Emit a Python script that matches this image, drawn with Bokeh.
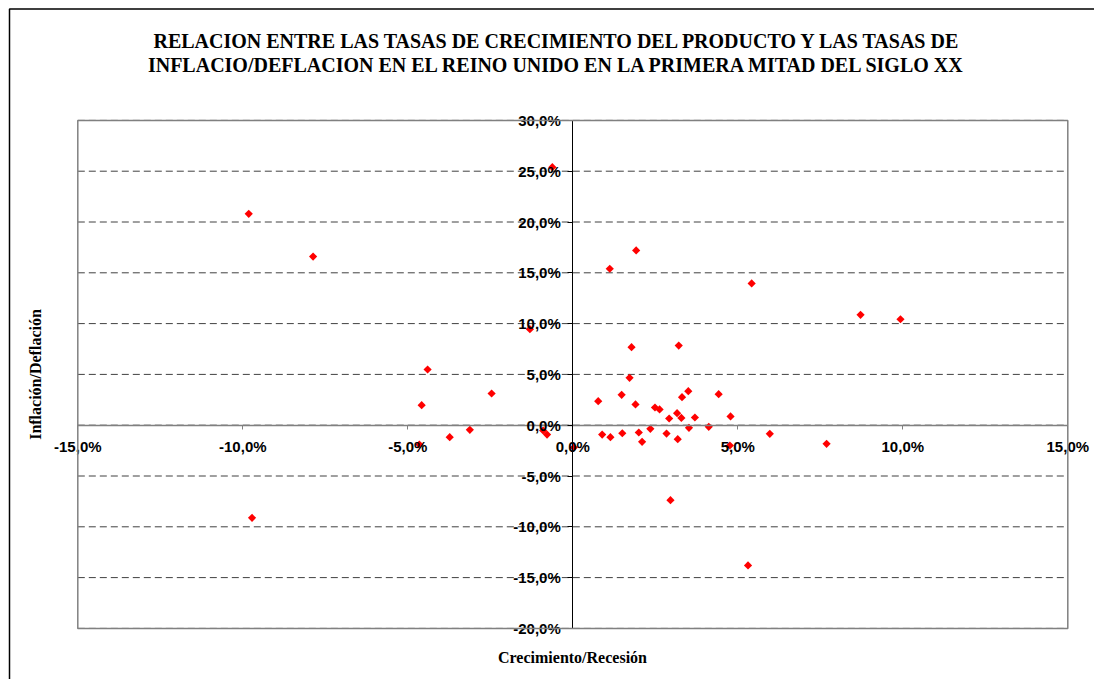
import math
from bokeh.plotting import figure
from bokeh.models import FixedTicker, Label, BoxAnnotation
from bokeh.embed import file_html
from bokeh.resources import INLINE

# Growth of output (%) and inflation/deflation (%), UK, first half of the 20th century
growth = [-0.62, -9.82, -7.87, 1.12, 1.92, 5.42, 8.72, 9.93, -1.30, -4.40,
          -4.58, -2.46, -4.65, -3.73, -3.12, -0.90, -0.78, -9.72, 0.03, 0.77,
          0.89, 1.14, 1.48, 1.50, 1.72, 1.78, 1.90, 2.00, 2.10, 2.35,
          2.49, 2.63, 2.84, 2.92, 3.21, 3.18, 3.16, 3.29, 3.31, 3.50,
          3.52, 3.70, 4.12, 4.42, 4.78, 4.76, 5.97, 7.69, 2.96, 5.31]
inflation = [25.4, 20.8, 16.6, 15.4, 17.2, 13.95, 10.86, 10.43, 9.45, 5.48,
             1.97, 3.12, -1.90, -1.18, -0.46, -0.52, -0.92, -9.12, -2.20, 2.36,
             -0.92, -1.18, 2.99, -0.79, 4.66, 7.68, 2.04, -0.72, -1.64, -0.36,
             1.74, 1.55, -0.82, 0.66, 7.84, -1.38, 1.18, 0.72, 2.76, 3.35,
             -0.26, 0.76, -0.16, 3.05, 0.86, -2.00, -0.85, -1.83, -7.38, -13.80]

x_ticks = [-15, -10, -5, 0, 5, 10, 15]
x_tick_labels = ["-15,0%", "-10,0%", "-5,0%", "0,0%", "5,0%", "10,0%", "15,0%"]
y_ticks = [-20, -15, -10, -5, 0, 5, 10, 15, 20, 25, 30]
y_tick_labels = ["-20,0%", "-15,0%", "-10,0%", "-5,0%", "0,0%", "5,0%",
                 "10,0%", "15,0%", "20,0%", "25,0%", "30,0%"]

title_lines = ["RELACION ENTRE LAS TASAS DE CRECIMIENTO DEL PRODUCTO Y LAS TASAS DE",
               "INFLACIO/DEFLACION EN EL REINO UNIDO EN LA PRIMERA MITAD DEL SIGLO XX"]
x_title = "Crecimiento/Recesión"
y_title = "Inflación/Deflación"

# ---- layout: the frame covers the whole canvas; the plot area is drawn inside it
W, H = 1094, 679
X0_PX, PX_PER_X = 572.3, 33.0      # canvas x of 0 %, pixels per 1 %
Y0_PX, PX_PER_Y = 424.7, 10.16     # canvas y of 0 %, pixels per 1 %


def dx(px):
    return (px - X0_PX) / PX_PER_X


def dy(py):
    return (Y0_PX - py) / PX_PER_Y


x_lo, x_hi = x_ticks[0], x_ticks[-1]
y_lo, y_hi = y_ticks[0], y_ticks[-1]

p = figure(width=W, height=H, x_range=(dx(0), dx(W)), y_range=(dy(H), dy(0)),
           output_backend="svg", toolbar_location=None, tools="",
           min_border=0, min_border_left=0, min_border_right=0,
           min_border_top=0, min_border_bottom=0)
p.background_fill_color = "white"
p.border_fill_color = "white"
p.outline_line_color = None
p.xgrid.visible = False
p.ygrid.visible = False

# outer chart-area border (only its left and top edges are in view)
p.add_layout(BoxAnnotation(left=dx(9), right=dx(W + 50), top=dy(8.5), bottom=dy(H + 50),
                           fill_color=None, fill_alpha=0, line_color="black",
                           line_alpha=1, line_width=1.5, level="underlay"))

# dashed horizontal gridlines across the plot area
p.segment(x0=[x_lo] * len(y_ticks), x1=[x_hi] * len(y_ticks), y0=y_ticks, y1=y_ticks,
          line_color="#404040", line_dash="7 4", line_width=1)

xa = p.xaxis[0]
xa.fixed_location = 0
xa.bounds = (x_lo, x_hi)
xa.ticker = FixedTicker(ticks=x_ticks)
xa.major_label_overrides = dict(zip(x_ticks, x_tick_labels))
xa.axis_line_color = "#808080"
xa.axis_line_width = 1.5
xa.major_tick_line_color = "#808080"
xa.major_tick_in = 0
xa.major_tick_out = 4
xa.minor_tick_line_color = None
xa.major_label_standoff = 9
xa.major_label_text_font = "Liberation Sans"
xa.major_label_text_font_style = "bold"
xa.major_label_text_font_size = "15px"
xa.major_label_text_color = "black"

ya = p.yaxis[0]
ya.fixed_location = 0
ya.bounds = (y_lo, y_hi)
ya.ticker = FixedTicker(ticks=y_ticks)
ya.major_label_overrides = dict(zip(y_ticks, y_tick_labels))
ya.axis_line_color = "black"
ya.axis_line_width = 1
ya.major_tick_line_color = "black"
ya.major_tick_in = 0
ya.major_tick_out = 5
ya.minor_tick_line_color = None
ya.major_label_standoff = 7
ya.major_label_text_font = "Liberation Sans"
ya.major_label_text_font_style = "bold"
ya.major_label_text_font_size = "15px"
ya.major_label_text_color = "black"

p.scatter(growth, inflation, marker="square", angle=math.pi / 4, size=5.8,
          fill_color="#FF0000", line_color=None)

# plot-area border
p.add_layout(BoxAnnotation(left=x_lo, right=x_hi, bottom=y_lo, top=y_hi,
                           fill_color=None, fill_alpha=0, line_color="#808080",
                           line_alpha=1, line_width=1.5))

serif = "Liberation Serif"
p.add_layout(Label(x=dx(557), y=dy(40), text=title_lines[0], text_align="center",
                   text_baseline="middle", text_font=serif, text_font_style="bold",
                   text_font_size="20px", text_color="black"))
p.add_layout(Label(x=dx(557), y=dy(64), text=title_lines[1], text_align="center",
                   text_baseline="middle", text_font=serif, text_font_style="bold",
                   text_font_size="20px", text_color="black"))
p.add_layout(Label(x=dx(572), y=dy(657), text=x_title, text_align="center",
                   text_baseline="middle", text_font=serif, text_font_style="bold",
                   text_font_size="16px", text_color="black"))
p.add_layout(Label(x=dx(35), y=dy(374), text=y_title, text_align="center",
                   text_baseline="middle", angle=math.pi / 2, text_font=serif,
                   text_font_style="bold", text_font_size="16px", text_color="black"))

open("out.html", "w").write(file_html(p, INLINE))
